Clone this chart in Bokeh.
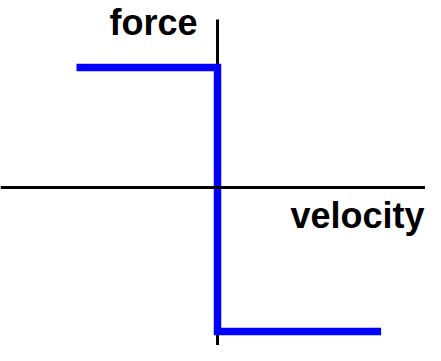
from bokeh.plotting import figure
from bokeh.models import Range1d, Span
from bokeh.core.properties import value
from bokeh.embed import file_html
from bokeh.resources import INLINE

# Coulomb friction: force vs velocity (normalized units)
velocity = [-1.0, 0.0, 0.0, 1.16]
force = [1.0, 1.0, -1.2, -1.2]

axis_x_label = "velocity"
axis_y_label = "force"
v_axis_top = 1.4

p = figure(width=425, height=345, output_backend="svg", toolbar_location=None,
           x_range=Range1d(-1.539, 1.475), y_range=Range1d(-1.317, 1.558),
           min_border=0, min_border_left=0, min_border_right=0,
           min_border_top=0, min_border_bottom=0)
p.axis.visible = False
p.grid.visible = False
p.outline_line_color = None
p.background_fill_color = "white"
p.border_fill_color = "white"

# horizontal (velocity) axis line
p.add_layout(Span(location=0, dimension="width", line_color="black", line_width=3))
# vertical (force) axis line
p.segment(x0=[0], y0=[v_axis_top], x1=[0], y1=[-1.317], line_color="black", line_width=3)

# friction curve
p.line(velocity, force, line_color="#0000FF", line_width=7.5, line_join="miter", line_cap="butt")

p.text(x=[-0.142], y=[1.375], text=[axis_y_label], text_align="right",
       text_baseline="alphabetic", text_font=value("Liberation Sans"),
       text_font_style="bold", text_font_size="36px", text_color="black")
p.text(x=[1.468], y=[-0.23], text=[axis_x_label], text_align="right",
       text_baseline="alphabetic", text_font=value("Liberation Sans"),
       text_font_style="bold", text_font_size="36px", text_color="black")

open("out.html", "w").write(file_html(p, INLINE))
